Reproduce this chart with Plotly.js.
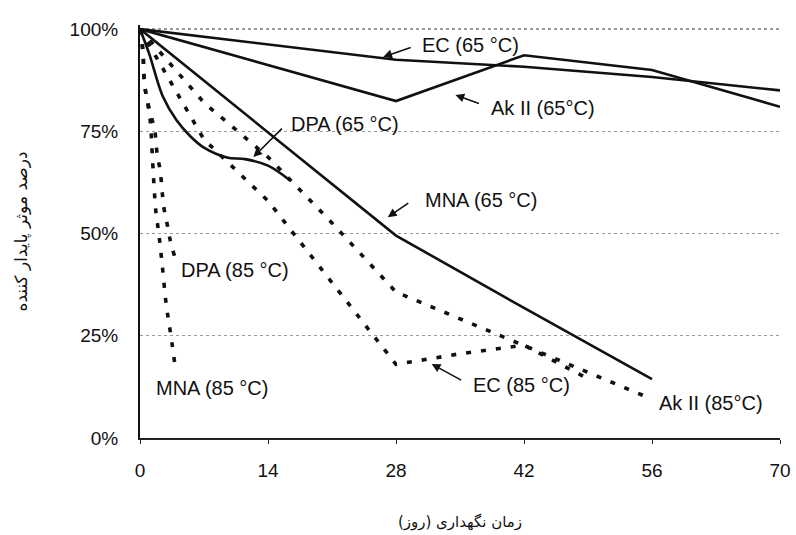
<!DOCTYPE html>
<html>
<head>
<meta charset="utf-8">
<script src="https://cdn.plot.ly/plotly-3.0.1.min.js"></script>
<style>
  html, body { margin: 0; padding: 0; background: #fff; }
  #chart { width: 796px; height: 535px; }
</style>
</head>
<body>
<div id="chart"></div>
<script>
// ---- data (x = days, y = % remaining) ----
const ec65Days   = [0, 28, 42, 56, 70];
const ec65Vals   = [100, 92.5, 90.8, 88.3, 85];

const ak65Days   = [0, 28, 42, 56, 70];
const ak65Vals   = [100, 82.4, 93.6, 90, 81];

const mna65Days  = [0, 28, 42, 56];
const mna65Vals  = [100, 49.5, 31.8, 14.4];

const dpa65Days  = [0, 1, 2.5, 4, 5.5, 7, 9.5, 11.5, 14, 16.4];
const dpa65Vals  = [100, 94, 83.5, 77.7, 73.8, 71, 68.6, 68.2, 66.6, 63];

const mna85Days  = [0, 0.3, 0.5, 0.8, 1.1, 1.25, 1.35, 1.75, 2.0, 2.4, 2.85, 3.4, 3.9];
const mna85Vals  = [100, 95, 86.5, 82.5, 78, 73.5, 69, 55, 51, 43, 33, 24.7, 16.6];

const dpa85Days  = [0, 0.3, 0.5, 0.8, 1.3, 1.6, 1.9, 2.2, 2.6, 3.0, 3.3, 3.8];
const dpa85Vals  = [100, 95, 86.5, 82.5, 78, 75.5, 69, 65.5, 56.5, 52, 48.4, 44.3];

const ec85Days   = [0, 7, 14, 21, 28, 35, 42, 49];
const ec85Vals   = [100, 73, 58, 38, 18, 20.6, 22.7, 14.5];

const ak85Days   = [0, 7, 14, 21, 28, 35, 42, 49, 56];
const ak85Vals   = [100, 82, 68.7, 52.6, 35.7, 29.1, 22.7, 16.1, 9.5];

const xTicks     = [0, 14, 28, 42, 56, 70];
const yTicks     = [0, 25, 50, 75, 100];
const yTickText  = ['0%', '25%', '50%', '75%', '100%'];

const seriesLabels = ['EC (65 °C)', 'Ak II (65°C)', 'DPA (65 °C)', 'MNA (65 °C)',
                      'DPA (85 °C)', 'MNA (85 °C)', 'EC (85 °C)', 'Ak II (85°C)'];

const xTitle = 'زمان نگهداری (روز)';
const yTitle = 'درصد موثر پایدار کننده';

// ---- styling ----
const solid = {color: '#111', width: 2.6};
const dotted = {color: '#111', width: 3.6, dash: '5px,10px'};

function tr(x, y, line, shape) {
  return {x: x, y: y, type: 'scatter', mode: 'lines',
          line: Object.assign({shape: shape || 'linear'}, line),
          hoverinfo: 'skip', showlegend: false};
}

const traces = [
  tr(ec65Days, ec65Vals, solid),
  tr(ak65Days, ak65Vals, solid),
  tr(mna65Days, mna65Vals, solid),
  tr(dpa65Days, dpa65Vals, solid, 'spline'),
  tr(mna85Days, mna85Vals, dotted, 'spline'),
  tr(dpa85Days, dpa85Vals, dotted, 'spline'),
  tr(ec85Days, ec85Vals, dotted),
  tr(ak85Days, ak85Vals, dotted)
];

// label placement (layout, not data)
const labelPos = [
  {x: 36.2, y: 96.1}, {x: 44.1, y: 80.7}, {x: 22.4, y: 76.8}, {x: 37.3, y: 58.2},
  {x: 10.4, y: 41.1}, {x: 7.9, y: 12.2}, {x: 41.7, y: 13.0}, {x: 62.4, y: 8.6}
];
// arrows: head position in data units, tail offset in px
const arrows = [
  {x: 26.6, y: 93.2, ax: 29, ay: -10},
  {x: 34.5, y: 83.9, ax: 25, ay: 9},
  {x: 12.4, y: 68.7, ax: 30, ay: -30},
  {x: 27.1, y: 54.0, ax: 22, ay: -15},
  {x: 31.9, y: 18.1, ax: 31, ay: 17}
];

const lblFont = {family: 'Liberation Sans, Arial, sans-serif', size: 20, color: '#111'};
const annotations = [];
seriesLabels.forEach((t, i) => {
  annotations.push({x: labelPos[i].x, y: labelPos[i].y, xref: 'x', yref: 'y',
    text: t, showarrow: false, font: lblFont, xanchor: 'center', yanchor: 'middle'});
});
arrows.forEach(a => {
  annotations.push({x: a.x, y: a.y, xref: 'x', yref: 'y', text: '', showarrow: true,
    ax: a.ax, ay: a.ay, arrowhead: 2, arrowsize: 1.1, arrowwidth: 1.6, arrowcolor: '#111', standoff: 0});
});

const tickFont = {family: 'Liberation Sans, Arial, sans-serif', size: 19, color: '#111'};
const xTitleFont = {family: 'DejaVu Sans, Noto Sans, sans-serif', size: 15, color: '#111'};
const yTitleFont = {family: 'DejaVu Sans, Noto Sans, sans-serif', size: 17, color: '#111'};

const layout = {
  width: 796, height: 535,
  margin: {l: 140, r: 16, t: 25, b: 97},
  paper_bgcolor: '#fff', plot_bgcolor: '#fff',
  showlegend: false,
  xaxis: {
    range: [0, 70], tickvals: xTicks, ticktext: xTicks.map(String),
    showline: true, linecolor: '#222', linewidth: 1.5,
    ticks: 'outside', ticklen: 4, tickcolor: '#222', tickwidth: 1,
    showgrid: false, zeroline: false, tickfont: tickFont,
    ticklabelstandoff: 11,
    title: {text: xTitle, font: xTitleFont, standoff: 36}
  },
  yaxis: {
    range: [0, 101], tickvals: yTicks, ticktext: yTickText,
    showline: true, linecolor: '#111', linewidth: 2,
    ticks: '', showgrid: true, gridcolor: '#9a9a9a', gridwidth: 1.3, griddash: 'dot',
    zeroline: false, tickfont: tickFont, ticklabelstandoff: 16,
    title: {text: yTitle, font: yTitleFont, standoff: 38}
  },
  annotations: annotations
};

Plotly.newPlot('chart', traces, layout, {staticPlot: true, displayModeBar: false});
</script>
</body>
</html>
